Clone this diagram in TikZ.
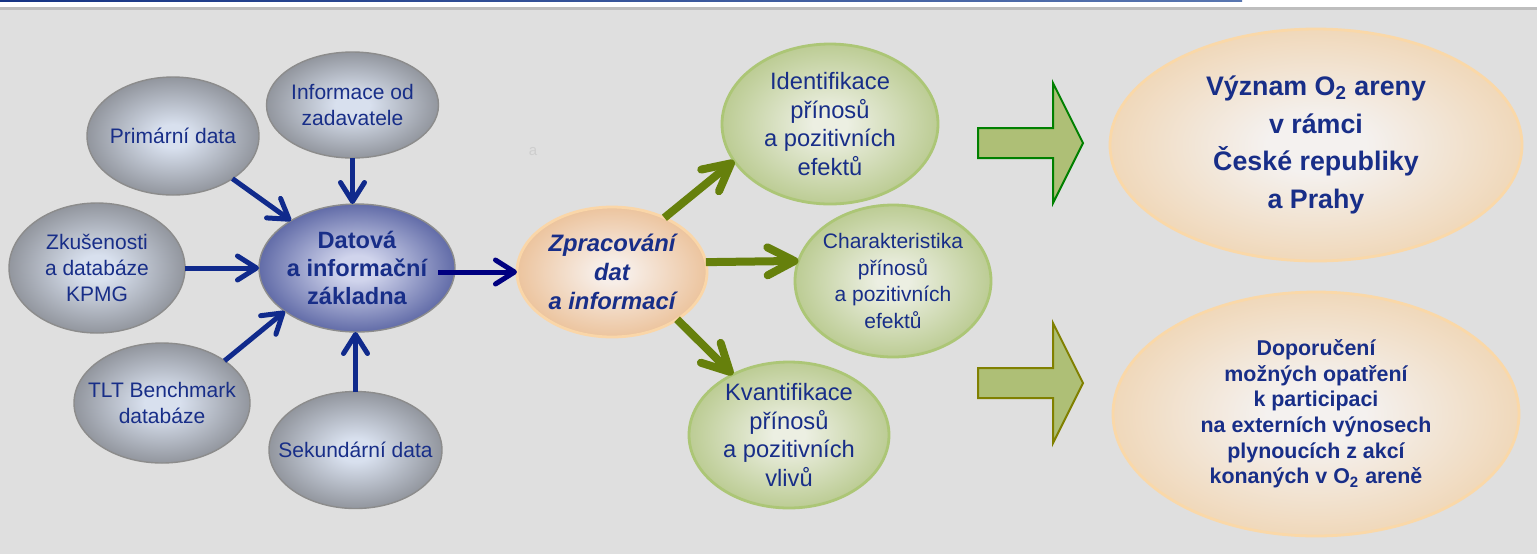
\documentclass[tikz,border=0pt]{standalone}
\usepackage{fontspec}
\setmainfont{Liberation Sans}
\usetikzlibrary{arrows.meta,shapes.geometric}
\definecolor{bg}{RGB}{223,223,223}
\definecolor{hdrline}{RGB}{190,190,190}
\definecolor{hdrblueA}{RGB}{22,52,132}
\definecolor{hdrblueB}{RGB}{88,118,176}
\definecolor{txtblue}{RGB}{24,46,136}
\definecolor{navyarr}{RGB}{16,42,140}
\definecolor{navyarrB}{RGB}{0,0,128}
\definecolor{greenarr}{RGB}{102,128,12}
\definecolor{blockfill}{RGB}{174,191,118}
\definecolor{blockgreen}{RGB}{0,128,0}
\definecolor{blockolive}{RGB}{128,128,0}
\definecolor{faint}{RGB}{206,206,206}
\definecolor{gin}{RGB}{216,224,238}
\definecolor{gout}{RGB}{146,150,158}
\definecolor{gborder}{RGB}{140,140,140}
\definecolor{din}{RGB}{208,212,236}
\definecolor{dout}{RGB}{98,108,168}
\definecolor{pin}{RGB}{247,238,232}
\definecolor{pout}{RGB}{236,196,158}
\definecolor{pborder}{RGB}{250,214,168}
\definecolor{lin}{RGB}{236,239,226}
\definecolor{lout}{RGB}{188,204,148}
\definecolor{lborder}{RGB}{172,198,118}
\definecolor{oin}{RGB}{244,241,239}
\definecolor{oout}{RGB}{240,216,186}
\definecolor{oborder}{RGB}{250,216,168}
\pgfdeclareradialshading{grayshade}{\pgfpoint{0bp}{0bp}}{color(0bp)=(gin); color(5bp)=(gin); color(25bp)=(gout); color(50bp)=(gout)}
\pgfdeclareradialshading{datshade}{\pgfpoint{0bp}{0bp}}{color(0bp)=(din); color(5bp)=(din); color(25bp)=(dout); color(50bp)=(dout)}
\pgfdeclareradialshading{peachshade}{\pgfpoint{0bp}{0bp}}{color(0bp)=(pin); color(4bp)=(pin); color(25bp)=(pout); color(50bp)=(pout)}
\pgfdeclareradialshading{limeshade}{\pgfpoint{0bp}{0bp}}{color(0bp)=(lin); color(4bp)=(lin); color(25bp)=(lout); color(50bp)=(lout)}
\pgfdeclareradialshading{orangeshade}{\pgfpoint{0bp}{0bp}}{color(0bp)=(oin); color(6bp)=(oin); color(25bp)=(oout); color(50bp)=(oout)}
\tikzset{
  ell/.style={ellipse, inner sep=-60pt, outer sep=0pt, align=center, text=txtblue},
  grayell/.style={ell, shade, shading=grayshade, draw=gborder, line width=0.7pt,
    font=\fontsize{10.5pt}{12.8pt}\selectfont},
  datell/.style={ell, shade, shading=datshade, draw=gborder, line width=0.7pt,
    font=\bfseries\fontsize{11.8pt}{14pt}\selectfont},
  peachell/.style={ell, shade, shading=peachshade, draw=pborder, line width=1.4pt,
    font=\bfseries\itshape\fontsize{11.9pt}{14.5pt}\selectfont},
  limeell/.style={ell, shade, shading=limeshade, draw=lborder, line width=1.4pt,
    font=\fontsize{11.85pt}{14.3pt}\selectfont},
  orangeell/.style={ell, shade, shading=orangeshade, draw=oborder, line width=1.4pt},
  navyarrow/.style={draw=navyarr, line width=2.5pt,
    -{Straight Barb[round,length=9.5pt,width=12pt]}},
  greenarrow/.style={draw=greenarr, line width=4pt,
    -{Straight Barb[round,length=13.5pt,width=14pt]}},
  blockarrow/.style={fill=blockfill, line width=1pt, line join=miter},
}
\begin{document}
\begin{tikzpicture}[x=0.5pt,y=-0.5pt]
\useasboundingbox (0,0) rectangle (1537,554);
% background and header
\fill[white] (0,0) rectangle (1537,10);
\fill[bg] (0,10) rectangle (1537,554);
\fill[hdrline] (0,7) rectangle (1537,10);
\shade[left color=hdrblueA, right color=hdrblueB] (0,0) rectangle (1242,1.6);
\node[text=faint, font=\fontsize{7.5pt}{9pt}\selectfont] (fainta) at (533,152) {a};

% input ellipses
\node[grayell, minimum width=86pt, minimum height=53pt] (inf) at (352.5,105) {Informace od\\zadavatele};
\node[grayell, minimum width=86pt, minimum height=59pt] (prim) at (173,136) {Primární data};
\node[grayell, minimum width=88pt, minimum height=65pt] (zk) at (97,268) {Zkušenosti\\a databáze\\KPMG};
\node[grayell, minimum width=88pt, minimum height=60pt] (tlt) at (162,403) {TLT Benchmark\\databáze};
\node[grayell, minimum width=86.5pt, minimum height=58.5pt] (sek) at (355.5,450) {Sekundární data};
\node[datell, minimum width=98pt, minimum height=64pt] (dat) at (357,268) {Datová\\a informační\\základna};

% processing
\node[peachell, minimum width=95pt, minimum height=65pt] (zpr) at (612,272) {Zpracování\\dat\\a informací};

% outputs
\node[limeell, minimum width=108pt, minimum height=80pt] (ide) at (830,124) {Identifikace\\přínosů\\a pozitivních\\efektů};
\node[limeell, minimum width=98pt, minimum height=76pt, font=\fontsize{10.5pt}{13.2pt}\selectfont] (cha) at (893,281) {Charakteristika\\přínosů\\a pozitivních\\efektů};
\node[limeell, minimum width=100pt, minimum height=73pt] (kva) at (789,435) {Kvantifikace\\přínosů\\a pozitivních\\vlivů};

% results
\node[orangeell, minimum width=206pt, minimum height=116pt, font=\bfseries\fontsize{13.4pt}{18.85pt}\selectfont] (vyz) at (1316,145) {Význam O\textsubscript{2} areny\\v rámci\\České republiky\\a Prahy};
\node[orangeell, minimum width=203pt, minimum height=122pt, font=\bfseries\fontsize{10.7pt}{12.8pt}\selectfont] (dop) at (1316,414) {Doporučení\\možných opatření\\k participaci\\na externích výnosech\\plynoucích z akcí\\konaných v O\textsubscript{2} areně};

% block arrows
\draw[blockarrow, draw=blockgreen] (978,128) -- (1053,128) -- (1053,83) -- (1083,143) -- (1053,203) -- (1053,158) -- (978,158) -- cycle;
\draw[blockarrow, draw=blockolive] (978,368) -- (1053,368) -- (1053,323) -- (1083,383) -- (1053,443) -- (1053,398) -- (978,398) -- cycle;

% navy connectors
\draw[navyarrow] (prim) -- (dat);
\draw[navyarrow] (inf.south) -- (inf.south |- dat.north);
\draw[navyarrow] (zk.east) -- (dat.west);
\draw[navyarrow] (tlt.34) -- (dat.211);
\draw[navyarrow] (sek.north) -- (sek.north |- dat.south);
\coordinate (dstart) at ([xshift=-8.5pt]dat.east);
\draw[navyarrow, draw=navyarrB] (dstart |- zpr.west) -- (zpr.west);

% green connectors
\draw[greenarrow] (zpr.46) -- (ide.201);
\draw[greenarrow] (zpr.6) -- (cha.168);
\draw[greenarrow] (zpr.-36) -- (kva.133);
\end{tikzpicture}
\end{document}
